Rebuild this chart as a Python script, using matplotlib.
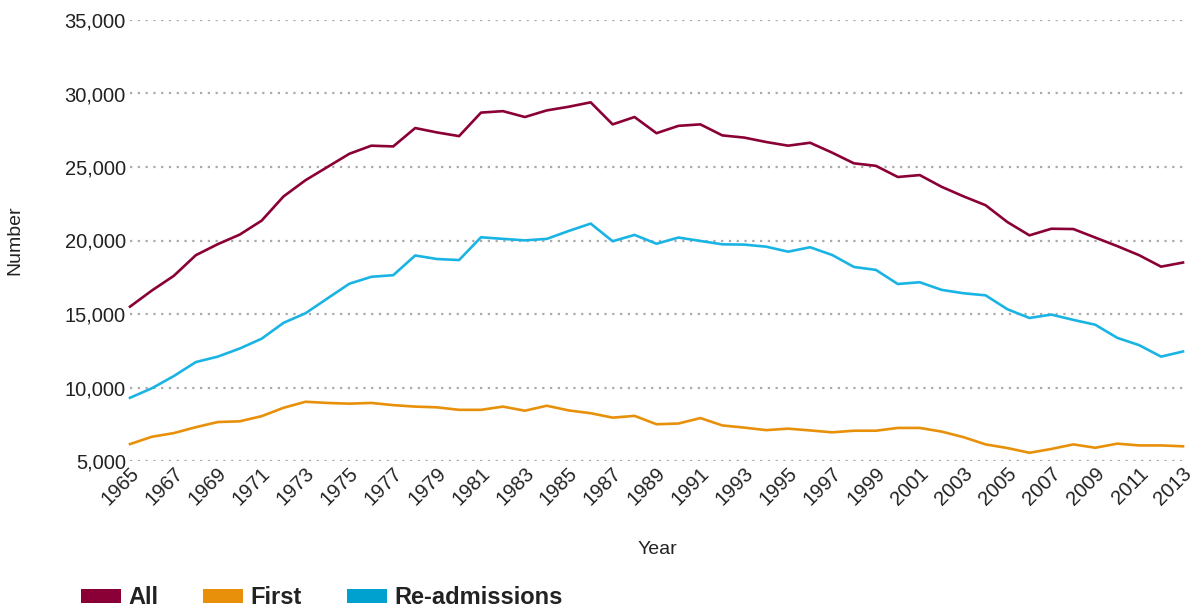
import matplotlib.pyplot as plt
from matplotlib.patches import Patch
from matplotlib.ticker import FuncFormatter
from matplotlib.transforms import ScaledTranslation

years = list(range(1965, 2014))

all_adm = [15500, 16600, 17600, 19000, 19750, 20400, 21350, 23000, 24100, 25000,
           25900, 26450, 26400, 27650, 27350, 27100, 28700, 28800, 28400, 28850,
           29100, 29400, 27900, 28400, 27300, 27800, 27900, 27150, 27000, 26700,
           26450, 26650, 25980, 25250, 25080, 24320, 24450, 23650, 23000, 22400,
           21250, 20350, 20800, 20780, 20200, 19620, 19000, 18220, 18500]

first_adm = [6150, 6650, 6900, 7300, 7650, 7700, 8050, 8620, 9030, 8950,
             8900, 8950, 8800, 8700, 8650, 8480, 8480, 8700, 8420, 8760,
             8440, 8250, 7950, 8070, 7500, 7550, 7920, 7420, 7270, 7100,
             7200, 7080, 6950, 7060, 7060, 7250, 7250, 7000, 6620, 6130,
             5880, 5560, 5820, 6130, 5900, 6180, 6060, 6060, 6000]

readm = [9300, 9950, 10780, 11730, 12100, 12650, 13320, 14400, 15050, 16060,
         17060, 17530, 17640, 18980, 18740, 18670, 20220, 20110, 20010, 20110,
         20650, 21150, 19950, 20380, 19780, 20200, 19970, 19740, 19720, 19580,
         19240, 19540, 19020, 18200, 18000, 17040, 17160, 16640, 16410, 16270,
         15320, 14730, 14960, 14600, 14270, 13380, 12880, 12100, 12450]

series_names = ["All", "First", "Re-admissions"]
line_colors = ["#8a0036", "#e8900a", "#1ab4e4"]
legend_colors = ["#8a0036", "#e8900a", "#00a1cf"]

plt.rcParams['font.family'] = ['Liberation Sans', 'DejaVu Sans']
text_color = "#222222"

fig = plt.figure(figsize=(12, 6.1), dpi=100)
ax = fig.add_axes([130 / 1200, 149 / 610, 1053 / 1200, 441 / 610])

for vals, c in zip([all_adm, first_adm, readm], line_colors):
    ax.plot(years, vals, color=c, linewidth=1.9, clip_on=False)

ax.set_xlim(1965, 2013)
ax.set_ylim(5000, 35000)
ax.set_yticks(range(5000, 35001, 5000))
ax.yaxis.set_major_formatter(FuncFormatter(lambda v, p: f"{int(v):,}"))
ax.set_xticks(range(1965, 2014, 2))
ax.set_xticklabels([str(y) for y in range(1965, 2014, 2)], rotation=45,
                   ha='right', va='center', rotation_mode='anchor')

for s in ax.spines.values():
    s.set_visible(False)
ax.tick_params(axis='both', length=0, labelsize=14.5, colors=text_color)
ax.tick_params(axis='y', pad=3)
ax.tick_params(axis='x', pad=7)
shift = ScaledTranslation(6 / 100, 0, fig.dpi_scale_trans)
for lab in ax.get_xticklabels():
    lab.set_transform(lab.get_transform() + shift)
ax.yaxis.grid(True, linestyle=(0, (1, 2.5)), color="#aaaaaa", linewidth=1.6)
ax.set_axisbelow(True)

fig.text(15 / 1200, 1 - 240 / 610, "Number", rotation=90, ha='center', va='center',
         fontsize=14, color=text_color)
fig.text(657 / 1200, 1 - 549 / 610, "Year", ha='center', va='center',
         fontsize=14, color=text_color)

handles = [Patch(facecolor=c, edgecolor='none') for c in legend_colors]
leg = fig.legend(handles, series_names, loc='center left',
                 bbox_to_anchor=(60 / 1200, 1 - 598 / 610), ncol=3, frameon=False,
                 handlelength=1.7, handleheight=0.55, handletextpad=0.3,
                 columnspacing=1.9, prop={'weight': 'bold', 'size': 17})
for t in leg.get_texts():
    t.set_color(text_color)

fig.savefig("out.png", dpi=100)
